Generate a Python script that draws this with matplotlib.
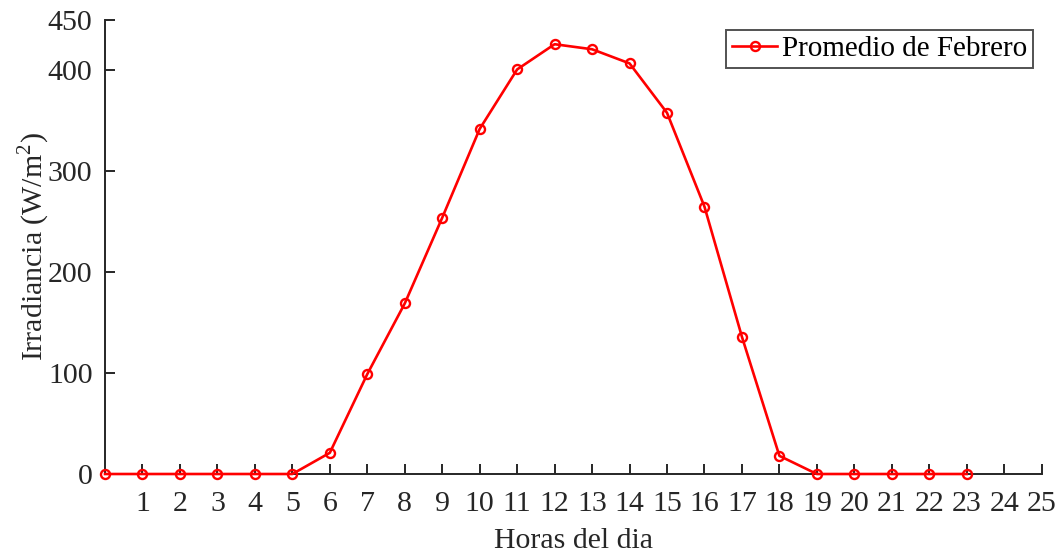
import matplotlib
matplotlib.use("Agg")
import matplotlib.pyplot as plt

hours = list(range(0, 24))
irradiance = [0, 0, 0, 0, 0, 0, 21, 99, 169, 254, 342, 401, 426, 421, 407, 358,
              265, 136, 18, 0, 0, 0, 0, 0]
xticks = list(range(1, 26))
yticks = [0, 100, 200, 300, 400, 450]

plt.rcParams['font.family'] = ['Liberation Serif', 'DejaVu Serif']
plt.rcParams['mathtext.fontset'] = 'custom'
plt.rcParams['mathtext.rm'] = 'Liberation Serif'

FS = 21.5
fig = plt.figure(figsize=(10.64, 5.54), dpi=100)
ax = fig.add_axes([0.0987, 0.1444, 0.8803, 0.8195])

ax.plot(hours, irradiance, color='#ff0000', lw=1.9, marker='o', ms=6.5,
        mfc='none', mec='#ff0000', mew=1.7, label='Promedio de Febrero', zorder=3,
        clip_on=False)

ax.set_xlim(0, 25)
ax.set_ylim(0, 450)
ax.set_xticks(xticks)
ax.set_xticklabels([str(t) for t in xticks])
ax.set_yticks(yticks)
ax.set_yticklabels([str(t) for t in yticks])

dark = '#262626'
for s in ['top', 'right']:
    ax.spines[s].set_visible(False)
for s in ['left', 'bottom']:
    ax.spines[s].set_color(dark)
    ax.spines[s].set_linewidth(1.4)

ax.tick_params(axis='both', direction='in', length=7, width=1.4, colors=dark,
               labelsize=FS, labelcolor=dark)
ax.tick_params(axis='x', pad=12)
ax.tick_params(axis='y', pad=9)

ax.set_xlabel('Horas del dia', fontsize=FS, color=dark, labelpad=8)
ax.set_ylabel('Irradiancia (W/m$^2$)', fontsize=FS, color=dark, labelpad=-3)

leg = ax.legend(loc='upper right', fontsize=21, frameon=True, fancybox=False,
                borderpad=0.2, handlelength=1.55, handletextpad=0.15,
                borderaxespad=0, bbox_to_anchor=(0.9904, 0.978))
leg.get_frame().set_edgecolor(dark)
leg.get_frame().set_linewidth(1.4)

fig.savefig('out.png', dpi=100)
